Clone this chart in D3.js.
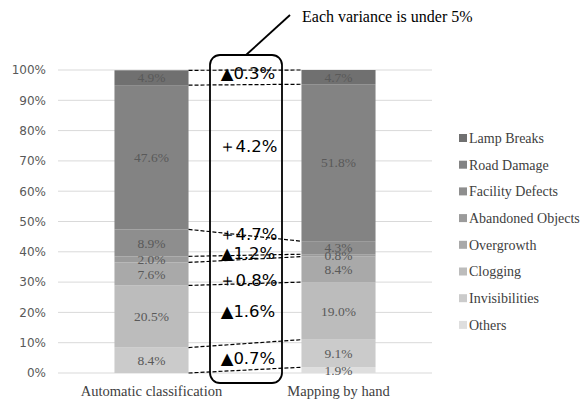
<!DOCTYPE html>
<html><head><meta charset="utf-8">
<script src="https://cdn.jsdelivr.net/npm/d3@7"></script>
<style>body{margin:0;background:#fff}svg{display:block}</style>
</head><body>
<svg id="c" width="586" height="403"></svg>
<script>
const categories = ["Automatic classification", "Mapping by hand"];
const seriesNames = ["Others", "Invisibilities", "Clogging", "Overgrowth", "Abandoned Objects", "Facility Defects", "Road Damage", "Lamp Breaks"];
const autoValues = [0, 8.4, 20.5, 7.6, 2.0, 8.9, 47.6, 4.9];
const handValues = [1.9, 9.1, 19.0, 8.4, 0.8, 4.3, 51.8, 4.7];
const seriesColors = ["#dedede", "#cbcbcb", "#bcbcbc", "#a9a9a9", "#9b9b9b", "#8e8e8e", "#838383", "#707070"];
const yTicks = [0, 10, 20, 30, 40, 50, 60, 70, 80, 90, 100];
const varianceLabels = ["▲0.3%", "＋4.2%", "＋4.7%", "▲1.2%", "＋0.8%", "▲1.6%", "▲0.7%"];
const varianceAt = [99, 75, 45.8, 39.5, 30.6, 20.5, 4.8];
const note = "Each variance is under 5%";

const svg = d3.select("#c");
const x = d3.scaleBand().domain(categories).range([58, 432]).paddingInner(0.604).paddingOuter(0.302);
const y = d3.scaleLinear().domain([0, 100]).range([373, 70]);

// gridlines
svg.append("g").selectAll("line").data(yTicks).join("line")
  .attr("x1", 58).attr("x2", 432).attr("y1", d => y(d)).attr("y2", d => y(d))
  .attr("stroke", "#d9d9d9").attr("stroke-width", 1);

// y axis labels
const yAxis = d3.axisLeft(y).tickValues(yTicks).tickFormat(d => d + "%").tickSize(0).tickPadding(0);
const ga = svg.append("g").attr("transform", "translate(46,0)").call(yAxis);
ga.select(".domain").remove();
ga.selectAll("text").attr("font-family", "DejaVu Sans").attr("font-size", 12).attr("fill", "#595959");

// stack data
const rows = categories.map((c, i) => {
  const o = {cat: c};
  const vals = i === 0 ? autoValues : handValues;
  seriesNames.forEach((s, j) => o[s] = vals[j]);
  return o;
});
const stack = d3.stack().keys(seriesNames)(rows);
const color = d3.scaleOrdinal().domain(seriesNames).range(seriesColors);

const gs = svg.append("g").selectAll("g").data(stack).join("g").attr("fill", d => color(d.key));
gs.selectAll("rect").data(d => d).join("rect")
  .attr("x", d => x(d.data.cat)).attr("width", x.bandwidth())
  .attr("y", d => y(d[1])).attr("height", d => y(d[0]) - y(d[1]));

// value labels
const labels = [];
stack.forEach(s => s.forEach(d => { const v = d[1] - d[0]; if (v > 0.05) labels.push({cat: d.data.cat, v, mid: (d[0] + d[1]) / 2}); }));
svg.append("g").selectAll("text").data(labels).join("text")
  .attr("x", d => x(d.cat) + x.bandwidth() / 2).attr("y", d => y(d.mid))
  .attr("dy", "0.35em").attr("text-anchor", "middle")
  .attr("font-family", "Liberation Serif").attr("font-size", 13.5).attr("fill", "#595959")
  .text(d => d.v.toFixed(1) + "%");

// dashed connectors between matching segment boundaries
const conn = [];
for (let k = 0; k < seriesNames.length; k++) {
  if (k === 0) conn.push({a: stack[k][0][0], b: stack[k][1][0]});
  conn.push({a: stack[k][0][1], b: stack[k][1][1]});
}
const connDraw = conn.filter((d, i) => i !== 0 && d.a < 99.99);
svg.append("g").selectAll("line").data(connDraw).join("line")
  .attr("x1", x(categories[0]) + x.bandwidth()).attr("x2", x(categories[1]))
  .attr("y1", d => y(d.a)).attr("y2", d => y(d.b))
  .attr("stroke", "#000").attr("stroke-width", 1.2).attr("stroke-dasharray", "4,2");

// box
svg.append("rect").attr("x", 210).attr("y", 55).attr("width", 72).attr("height", 328)
  .attr("rx", 10).attr("fill", "none").attr("stroke", "#000").attr("stroke-width", 1.8);
svg.append("line").attr("x1", 246).attr("y1", 55).attr("x2", 290).attr("y2", 15)
  .attr("stroke", "#000").attr("stroke-width", 1.8);
svg.append("text").attr("x", 302).attr("y", 22).attr("font-family", "Liberation Serif")
  .attr("font-size", 16).attr("fill", "#000").text(note);

// variance labels
svg.append("g").selectAll("text").data(varianceLabels).join("text")
  .attr("x", 248).attr("y", (d, i) => y(varianceAt[i])).attr("dy", "0.35em")
  .attr("text-anchor", "middle").attr("font-family", "DejaVu Sans").attr("font-size", 16.5)
  .attr("fill", "#000").text(d => d);

// x labels
svg.append("g").selectAll("text").data(categories).join("text")
  .attr("x", d => x(d) + x.bandwidth() / 2).attr("y", 396).attr("text-anchor", "middle")
  .attr("font-family", "Liberation Serif").attr("font-size", 14.5).attr("fill", "#404040").text(d => d);

// legend
const legendItems = seriesNames.slice().reverse();
const lg = svg.append("g").selectAll("g").data(legendItems).join("g")
  .attr("transform", (d, i) => `translate(459,${138 + i * 26.7})`);
lg.append("rect").attr("x", 0).attr("y", -4).attr("width", 8).attr("height", 8).attr("fill", d => color(d));
lg.append("text").attr("x", 10).attr("dy", "0.35em").attr("font-family", "Liberation Serif")
  .attr("font-size", 14).attr("fill", "#404040").text(d => d);
</script>
</body></html>
